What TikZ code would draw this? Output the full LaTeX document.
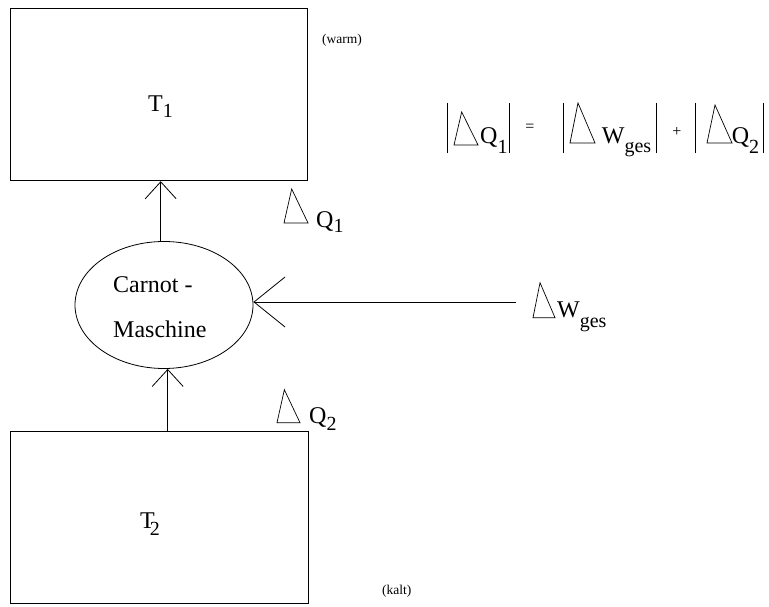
\documentclass[tikz,border=0pt]{standalone}
\usepackage{fontspec}
\setmainfont{Liberation Serif}
\usetikzlibrary{shapes.geometric,arrows.meta}
\newcommand\bigf{\fontsize{24}{28}\selectfont}
\newcommand\smallf{\fontsize{13.5}{16}\selectfont}
\newcommand\opf{\fontsize{16}{18}\selectfont}
\newcommand\subf[2]{\raisebox{-#1pt}{\fontsize{20}{22}\selectfont #2}}
\newcommand\deltri[4]{\draw[tri] (#1,#2) -- ++({0.32*#3},{-#4}) -- ({#1+#3},#2) -- cycle;}
\begin{document}
\begin{tikzpicture}[x=1pt,y=-1pt,
  box/.style={draw, rectangle, line width=1.2pt, inner sep=0pt, anchor=north west},
  arr/.style={line width=0.8pt, -{Straight Barb[length=17pt, width=31pt, line width=0.8pt]}},
  arrbig/.style={line width=0.8pt, -{Straight Barb[length=31pt, width=50pt, line width=0.8pt]}},
  tri/.style={line width=0.7pt},
  bar/.style={line width=0.9pt},
  txt/.style={inner sep=0pt, anchor=base west, font=\bigf},
  sml/.style={inner sep=0pt, anchor=base west, font=\smallf},
  op/.style={inner sep=0pt, anchor=center, font=\opf}]
\useasboundingbox (0,0) rectangle (769,607);
% reservoirs
\node[box, minimum width=297pt, minimum height=172pt] (hot) at (10,8) {};
\node[box, minimum width=298pt, minimum height=172pt] (cold) at (10,431) {};
\node[txt] (t1) at (148,112) {T\subf{6}{1}};
\node[txt] (t2) at (140,528) {T\kern-5pt\subf{7}{2}};
\node[sml] (warm) at (322,44) {(warm)};
\node[sml] (kalt) at (382,594) {(kalt)};
% machine
\node[draw, ellipse, line width=0.8pt, minimum width=178pt, minimum height=127pt, inner sep=0pt] (carnot) at (164,305) {};
\node[txt] (c1) at (113,292) {Carnot -};
\node[txt] (c2) at (113,337) {Maschine};
% arrows
\draw[arr] ([xshift=-3.3pt]carnot.north) -- ([xshift=-3.3pt]carnot.north |- hot.south);
\draw[arr] ([xshift=3.7pt]carnot.south |- cold.north) -- ([xshift=3.7pt]carnot.south);
\coordinate (wsrc) at (516,302);
\draw[arrbig] (wsrc) -- (carnot.east |- wsrc);
% labels
\deltri{284}{223}{24}{34}
\node[txt] (lq1) at (316,228) {Q\subf{5}{1}};
\deltri{533}{317.7}{22}{35}
\node[txt] (lw) at (557,317.7) {W\subf{10}{ges}};
\deltri{277}{422.7}{23}{33}
\node[txt] (lq2) at (309,423) {Q\subf{7}{2}};
% equation
\foreach \bx in {447.3,509,563.3,656.7,695,763.3} {\draw[bar] (\bx,103) -- (\bx,153);}
\deltri{454}{145}{24}{33}
\node[txt] (eq1) at (480,144) {Q\subf{10}{1}};
\node[op] (eqs) at (530,128) {=};
\deltri{570}{143}{25}{40}
\node[txt] (ew) at (601.7,144) {W\subf{9}{ges}};
\node[op] (pls) at (677,131.7) {+};
\deltri{707}{143}{25}{38}
\node[txt] (eq2) at (731.7,144) {Q\subf{10}{2}};
\end{tikzpicture}
\end{document}
